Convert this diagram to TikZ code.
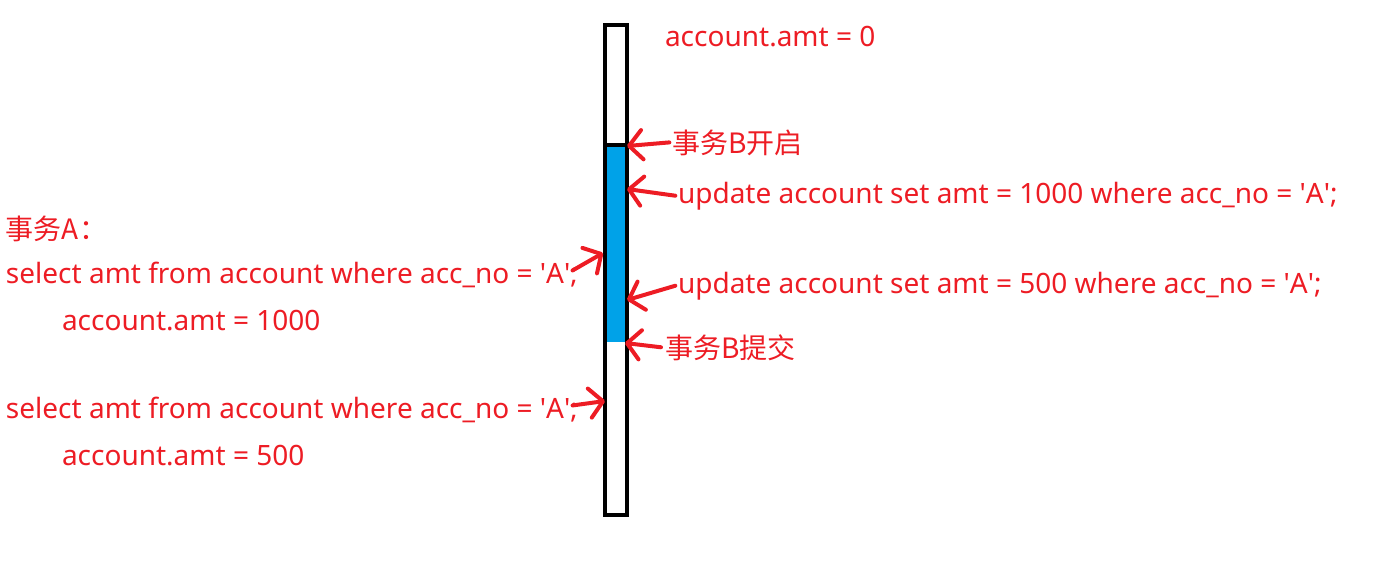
\documentclass[tikz,border=0pt]{standalone}
\usepackage{fontspec}
\setmainfont{Noto Sans}
\newfontfamily\cjk{Noto Sans CJK SC}
\usetikzlibrary{arrows.meta, positioning}
\definecolor{paintred}{RGB}{237,28,36}
\definecolor{paintblue}{RGB}{0,162,232}
\newcommand{\sq}{\textquotesingle}

\begin{document}
\begin{tikzpicture}[
    x=0.75pt, y=-0.75pt,
    font=\fontsize{21}{25}\selectfont,
    stmt/.style={text=paintred, anchor=base west, inner sep=0pt, outer sep=0pt},
    timeline/.style={rectangle, draw=black, line width=3pt, minimum width=16.5pt, minimum height=367.5pt, inner sep=0pt},
    busy/.style={rectangle, fill=paintblue, minimum width=13.5pt, minimum height=147.75pt, inner sep=0pt},
    pointer/.style={-{Straight Barb[length=10pt, width=22pt, line cap=round, line join=round]}, line width=3pt, draw=paintred, line cap=round}
]
\useasboundingbox (0,0) rectangle (1382,583);

% Timeline of transaction B
\node[busy] (txB) at (616,243.5) {};
\node[timeline] (bar) at (616,270) {};
\draw[line width=3pt] (bar.west |- txB.north) -- (bar.east |- txB.north);

% Points on the timeline
\coordinate (pOpen) at (627,146);
\coordinate (pUpd1000) at (627,189);
\coordinate (pSel1) at (603,253);
\coordinate (pUpd500) at (627,300);
\coordinate (pCommit) at (625,343);
\coordinate (pSel2) at (605,401);

% Transaction B
\node[stmt] (amt0) at (665,46) {account.amt = 0};
\node[stmt] (bopen) at (672,153) {\cjk 事务B开启};
\node[stmt] (upd1000) at (678,203) {update account set amt = 1000 where acc\_no = \sq A\sq;};
\node[stmt] (upd500) at (678,293) {update account set amt = 500 where acc\_no = \sq A\sq;};
\node[stmt] (bcommit) at (665,358) {\cjk 事务B提交};

% Transaction A
\node[stmt] (txA) at (6,239) {\cjk 事务A：};
\node[stmt] (sel1) at (6,283) {select amt from account where acc\_no = \sq A\sq;};
\node[stmt] (amt1000) at (62,330) {account.amt = 1000};
\node[stmt] (sel2) at (6,418) {select amt from account where acc\_no = \sq A\sq;};
\node[stmt] (amt500) at (62,465) {account.amt = 500};

% Pointers
\draw[pointer] ([xshift=-2pt]bopen.west) -- (pOpen);
\draw[pointer] ([xshift=-2pt]upd1000.west) -- (pUpd1000);
\draw[pointer] ([xshift=-2pt]upd500.west) -- (pUpd500);
\draw[pointer] ([xshift=-3pt]bcommit.west) -- (pCommit);
\draw[pointer] ([xshift=-4pt,yshift=3pt]sel1.east) -- (pSel1);
\draw[pointer] ([xshift=-4pt,yshift=3pt]sel2.east) -- (pSel2);

\end{tikzpicture}
\end{document}
